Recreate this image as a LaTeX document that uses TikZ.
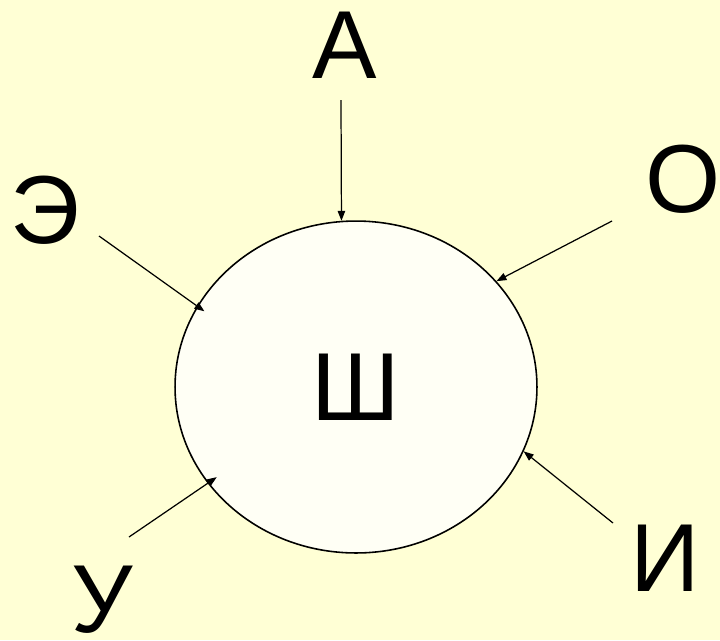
\documentclass[tikz,border=0pt]{standalone}
\usepackage{fontspec}
\setmainfont{Liberation Sans}
\usetikzlibrary{shapes.geometric, arrows.meta, positioning}

\definecolor{paper}{RGB}{255,255,213}
\definecolor{coreFill}{RGB}{255,255,245}

\begin{document}
\begin{tikzpicture}[
    x=0.02cm, y=-0.02cm,
    letter/.style={inner sep=0pt, font=\fontsize{55}{60}\selectfont},
    core/.style={ellipse, draw=black, line width=0.9pt, fill=coreFill, minimum width=7.24cm, minimum height=6.64cm, inner sep=0pt, font=\fontsize{55}{60}\selectfont},
    arrow/.style={line width=0.7pt, -{Triangle[length=0.2cm, width=0.15cm]}},
]

    % background
    \fill [paper] (0,0) rectangle (720,640);
    \useasboundingbox (0,0) rectangle (720,640);

    % centre
    \node (shu) [core] at (356,387) {Ш};

    % vowels round it
    \node (a) [letter] at (345,45) {А};
    \node (e) [letter] at (45,210) {Э};
    \node (o) [letter] at (683,179) {О};
    \node (u) [letter] at (102,600) {У};
    \node (i) [letter] at (665,558) {И};

    \coordinate (a_tail) at (341,100);
    \coordinate (e_tail) at (99,236);
    \coordinate (o_tail) at (612,221);
    \coordinate (u_tail) at (129,537);
    \coordinate (i_tail) at (613,523);

    \draw [arrow] (a_tail) -- (shu.95.1);
    \draw [arrow, shorten >=-0.18cm] (e_tail) -- (shu.153.1);
    \draw [arrow] (o_tail) -- (shu.37.8);
    \draw [arrow, shorten >=-0.22cm] (u_tail) -- (shu.213.7);
    \draw [arrow] (i_tail) -- (shu.339.7);

\end{tikzpicture}
\end{document}
